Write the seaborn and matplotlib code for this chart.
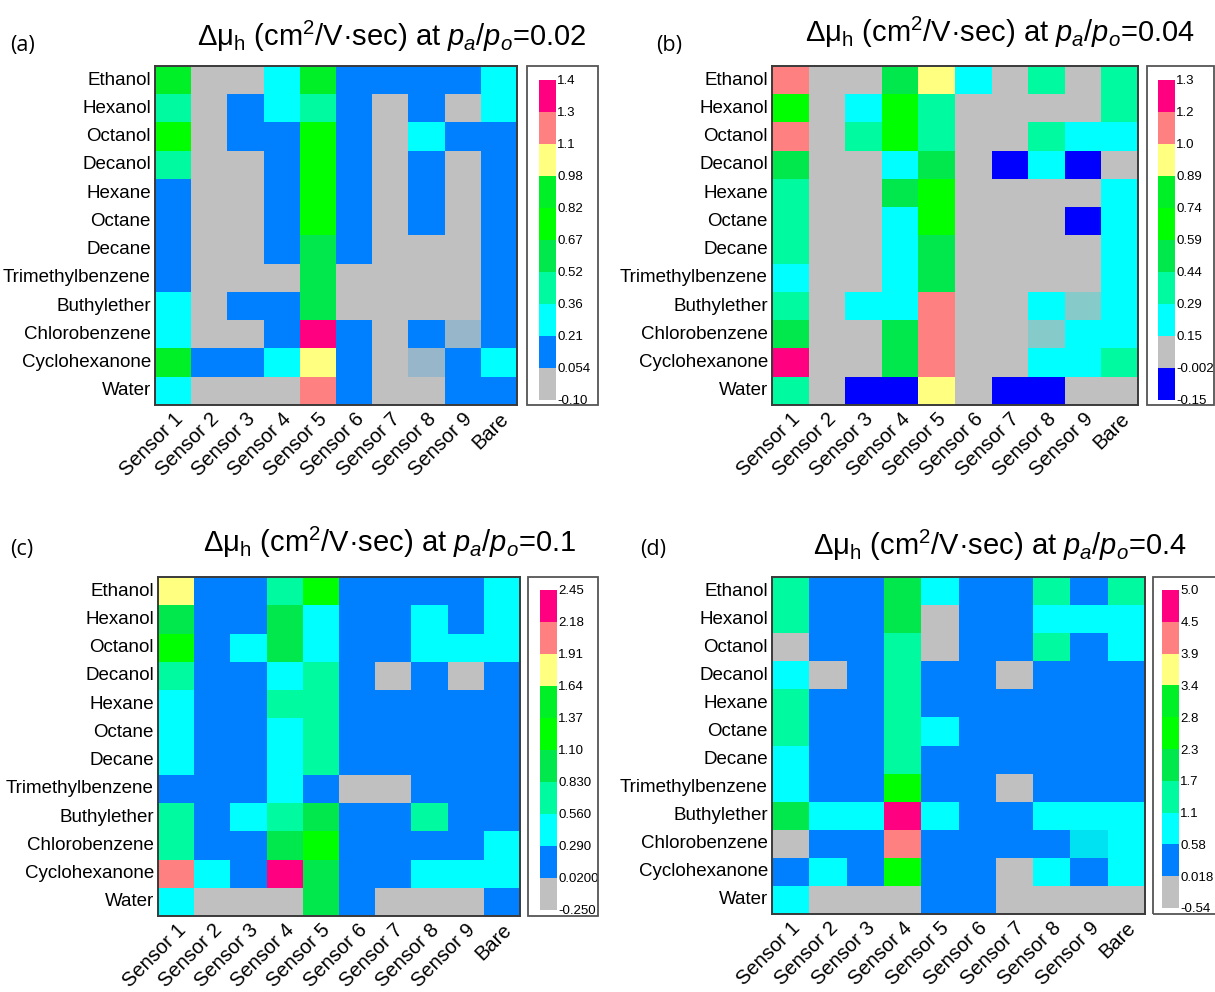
import numpy as np
import pandas as pd
import matplotlib
matplotlib.use("Agg")
import matplotlib.pyplot as plt
import seaborn as sns
from matplotlib.colors import ListedColormap, BoundaryNorm
from matplotlib.patches import Rectangle

sns.set_theme(style="white")
plt.rcParams["font.family"] = ["Liberation Sans", "DejaVu Sans"]
plt.rcParams["mathtext.fontset"] = "custom"
plt.rcParams["mathtext.rm"] = "Liberation Sans"
plt.rcParams["mathtext.it"] = "Liberation Sans:italic"

nan = np.nan

solvents = ["Ethanol", "Hexanol", "Octanol", "Decanol", "Hexane", "Octane",
            "Decane", "Trimethylbenzene", "Buthylether", "Chlorobenzene",
            "Cyclohexanone", "Water"]
sensors = ["Sensor 1", "Sensor 2", "Sensor 3", "Sensor 4", "Sensor 5",
           "Sensor 6", "Sensor 7", "Sensor 8", "Sensor 9", "Bare"]

# hole-mobility change (cm^2/V.sec), rows = solvent vapours, cols = sensors
dmu_002 = [
    [0.90, 0.01, -0.02, 0.28, 0.91, 0.12, 0.10, 0.13, 0.11, 0.30],
    [0.45, 0.02, 0.15, 0.27, 0.44, 0.14, -0.01, 0.09, 0.03, 0.29],
    [0.75, -0.03, 0.13, 0.16, 0.78, 0.12, 0.00, 0.26, 0.11, 0.14],
    [0.47, 0.02, 0.04, 0.12, 0.76, 0.15, 0.01, 0.10, -0.02, 0.13],
    [0.13, -0.01, 0.03, 0.11, 0.77, 0.13, 0.02, 0.12, 0.01, 0.15],
    [0.10, 0.00, -0.02, 0.14, 0.74, 0.11, 0.03, 0.13, 0.02, 0.12],
    [0.12, 0.02, 0.01, 0.15, 0.62, 0.10, -0.01, 0.04, 0.00, 0.14],
    [0.11, -0.02, 0.03, 0.02, 0.60, 0.01, 0.03, 0.02, -0.01, 0.13],
    [0.30, 0.01, 0.12, 0.10, 0.63, 0.02, 0.00, 0.03, 0.01, 0.12],
    [0.27, 0.03, -0.01, 0.13, 1.36, 0.14, 0.02, 0.11, nan, 0.15],
    [0.88, 0.12, 0.14, 0.31, 1.05, 0.13, 0.01, nan, 0.10, 0.26],
    [0.29, -0.04, 0.02, 0.01, 1.22, 0.12, 0.00, -0.03, 0.14, 0.11],
]
dmu_004 = [
    [1.12, 0.05, 0.08, 0.52, 0.95, 0.21, 0.06, 0.36, 0.09, 0.37],
    [0.68, 0.07, 0.22, 0.70, 0.38, 0.10, 0.04, 0.08, 0.11, 0.35],
    [1.08, 0.06, 0.33, 0.72, 0.40, 0.03, 0.09, 0.34, 0.20, 0.23],
    [0.55, 0.08, 0.05, 0.19, 0.53, 0.07, -0.09, 0.24, -0.10, 0.12],
    [0.39, 0.04, 0.10, 0.50, 0.67, 0.06, 0.05, 0.09, 0.02, 0.22],
    [0.37, 0.09, 0.06, 0.25, 0.66, 0.08, 0.03, 0.07, -0.07, 0.21],
    [0.36, 0.05, 0.07, 0.23, 0.56, 0.10, 0.06, 0.04, 0.08, 0.20],
    [0.26, 0.03, 0.08, 0.22, 0.54, 0.09, 0.07, 0.05, 0.06, 0.19],
    [0.38, 0.06, 0.24, 0.21, 1.10, 0.04, 0.08, 0.18, nan, 0.23],
    [0.51, 0.07, 0.09, 0.50, 1.13, 0.05, 0.10, nan, 0.22, 0.24],
    [1.25, 0.08, 0.04, 0.55, 1.06, 0.06, 0.07, 0.20, 0.25, 0.34],
    [0.35, 0.10, -0.08, -0.11, 0.94, 0.03, -0.06, -0.09, 0.07, 0.05],
]
dmu_01 = [
    [1.78, 0.12, 0.15, 0.70, 1.22, 0.10, 0.14, 0.11, 0.13, 0.42],
    [0.98, 0.14, 0.09, 0.95, 0.43, 0.12, 0.10, 0.40, 0.15, 0.38],
    [1.20, 0.11, 0.35, 0.97, 0.45, 0.13, 0.16, 0.41, 0.37, 0.39],
    [0.72, 0.13, 0.10, 0.44, 0.68, 0.15, -0.08, 0.12, -0.05, 0.14],
    [0.40, 0.12, 0.16, 0.66, 0.71, 0.11, 0.09, 0.13, 0.10, 0.15],
    [0.38, 0.14, 0.11, 0.45, 0.69, 0.12, 0.10, 0.14, 0.12, 0.13],
    [0.42, 0.10, 0.13, 0.47, 0.73, 0.09, 0.12, 0.11, 0.14, 0.10],
    [0.18, 0.11, 0.14, 0.43, 0.20, -0.06, -0.03, 0.12, 0.10, 0.13],
    [0.68, 0.13, 0.39, 0.70, 1.02, 0.15, 0.12, 0.67, 0.11, 0.14],
    [0.71, 0.10, 0.12, 0.99, 1.25, 0.13, 0.14, 0.10, 0.12, 0.44],
    [2.02, 0.41, 0.16, 2.31, 0.96, 0.12, 0.11, 0.37, 0.40, 0.43],
    [0.36, -0.10, -0.12, -0.08, 0.94, 0.13, -0.07, -0.09, -0.11, 0.15],
]
dmu_04 = [
    [1.42, 0.31, 0.25, 2.05, 0.86, 0.28, 0.33, 1.35, 0.30, 1.38],
    [1.40, 0.27, 0.34, 2.10, -0.21, 0.29, 0.26, 0.84, 0.90, 0.88],
    [-0.18, 0.30, 0.28, 1.45, -0.25, 0.32, 0.27, 1.36, 0.31, 0.87],
    [0.85, -0.15, 0.29, 1.44, 0.31, 0.26, -0.19, 0.33, 0.28, 0.30],
    [1.38, 0.28, 0.32, 1.41, 0.30, 0.27, 0.29, 0.31, 0.26, 0.33],
    [1.36, 0.33, 0.27, 1.43, 0.83, 0.29, 0.30, 0.28, 0.32, 0.27],
    [0.89, 0.29, 0.31, 1.47, 0.28, 0.30, 0.27, 0.29, 0.31, 0.28],
    [0.91, 0.26, 0.30, 2.55, 0.32, 0.28, -0.17, 0.30, 0.27, 0.29],
    [2.00, 0.87, 0.84, 4.72, 0.86, 0.31, 0.29, 0.88, 0.85, 0.90],
    [-0.22, 0.30, 0.28, 4.18, 0.27, 0.32, 0.29, 0.33, nan, 0.86],
    [0.33, 0.88, 0.30, 2.52, 0.29, 0.27, -0.20, 0.85, 0.31, 0.89],
    [0.87, -0.16, -0.23, -0.19, 0.30, 0.28, -0.21, -0.18, -0.24, -0.17],
]

# colour-scale boundaries and their printed labels
bounds_002 = [-0.10, 0.054, 0.21, 0.36, 0.52, 0.67, 0.82, 0.98, 1.1, 1.3, 1.4]
labels_002 = ["-0.10", "0.054", "0.21", "0.36", "0.52", "0.67", "0.82", "0.98", "1.1", "1.3", "1.4"]
bounds_004 = [-0.15, -0.002, 0.15, 0.29, 0.44, 0.59, 0.74, 0.89, 1.0, 1.2, 1.3]
labels_004 = ["-0.15", "-0.002", "0.15", "0.29", "0.44", "0.59", "0.74", "0.89", "1.0", "1.2", "1.3"]
bounds_01 = [-0.25, 0.02, 0.29, 0.56, 0.83, 1.10, 1.37, 1.64, 1.91, 2.18, 2.45]
labels_01 = ["-0.250", "0.0200", "0.290", "0.560", "0.830", "1.10", "1.37", "1.64", "1.91", "2.18", "2.45"]
bounds_04 = [-0.54, 0.018, 0.58, 1.1, 1.7, 2.3, 2.8, 3.4, 3.9, 4.5, 5.0]
labels_04 = ["-0.54", "0.018", "0.58", "1.1", "1.7", "2.3", "2.8", "3.4", "3.9", "4.5", "5.0"]

ratio_labels = ["0.02", "0.04", "0.1", "0.4"]
panel_tags = ["(a)", "(b)", "(c)", "(d)"]

GRAY, BLUE, DBLUE = "#C0C0C0", "#0080FF", "#0000FF"
upper = ["#00FFFF", "#00FAA0", "#00E84C", "#00FF00", "#00F028", "#FFFF80", "#FF8080", "#FF0080"]
colors_std = [GRAY, BLUE] + upper
colors_neg = [DBLUE, GRAY] + upper

W, H = 1215, 992


def fbox(x0, y0, x1, y1):
    return [x0 / W, 1 - y1 / H, (x1 - x0) / W, (y1 - y0) / H]


panels = [
    dict(data=dmu_002, bounds=bounds_002, labels=labels_002, colors=colors_std,
         hm=(155, 66, 517, 405), box=(527, 66, 598, 405), strip=(539, 80, 556, 400),
         title_x=392, title_y=36, tag=(10, 46), na="#98B6CA"),
    dict(data=dmu_004, bounds=bounds_004, labels=labels_004, colors=colors_neg,
         hm=(772, 66, 1138, 405), box=(1147, 66, 1214, 405), strip=(1158, 80, 1175, 400),
         title_x=1000, title_y=32, tag=(656, 46), na="#86CACA"),
    dict(data=dmu_01, bounds=bounds_01, labels=labels_01, colors=colors_std,
         hm=(158, 577, 520, 916), box=(528, 577, 598, 916), strip=(540, 590, 557, 910),
         title_x=390, title_y=542, tag=(10, 550), na="#C0C0C0"),
    dict(data=dmu_04, bounds=bounds_04, labels=labels_04, colors=colors_std,
         hm=(772, 577, 1145, 914), box=(1153, 577, 1218, 914), strip=(1162, 590, 1179, 908),
         title_x=1000, title_y=545, tag=(640, 550), na="#00E2F2"),
]

fig = plt.figure(figsize=(W / 100, H / 100), dpi=100)
fig.patch.set_facecolor("white")

for p, ratio, tag in zip(panels, ratio_labels, panel_tags):
    df = pd.DataFrame(p["data"], index=solvents, columns=sensors)
    cmap = ListedColormap(p["colors"])
    norm = BoundaryNorm(p["bounds"], cmap.N)

    ax = fig.add_axes(fbox(*p["hm"]))
    cax = fig.add_axes(fbox(*p["strip"]))
    ax.set_facecolor(p["na"])

    sns.heatmap(df, ax=ax, cmap=cmap, norm=norm, cbar_ax=cax,
                cbar_kws={"ticks": p["bounds"]})

    for s in ax.spines.values():
        s.set_visible(True)
        s.set_color("#3a3a3a")
        s.set_linewidth(1.4)
    ax.tick_params(length=0, pad=3)
    ax.set_yticklabels(solvents, rotation=0, fontsize=13.5, color="black")
    ax.set_xticklabels(sensors, rotation=45, ha="right", rotation_mode="anchor",
                       fontsize=14.5, color="black")
    ax.set_xlabel("")
    ax.set_ylabel("")

    cb = ax.collections[0].colorbar
    cb.set_ticks(p["bounds"])
    cb.set_ticklabels(p["labels"])
    cb.ax.tick_params(length=0, labelsize=9.5, pad=1, colors="black")
    cb.outline.set_visible(False)

    x0, y0, x1, y1 = p["box"]
    fig.add_artist(Rectangle((x0 / W, 1 - y1 / H), (x1 - x0) / W, (y1 - y0) / H,
                             transform=fig.transFigure, fill=False,
                             edgecolor="#555555", linewidth=1.3))

    fig.text(p["title_x"] / W, 1 - p["title_y"] / H,
             "Δμ$_\\mathrm{h}$ (cm$^2$/V·sec) at $p_a$/$p_o$=" + ratio,
             ha="center", va="center", fontsize=21, color="black")
    fig.text(p["tag"][0] / W, 1 - p["tag"][1] / H, tag, ha="left", va="center",
             fontsize=15.5, family=["Open Sans", "DejaVu Sans"], color="black")

fig.savefig("out.png", dpi=100, facecolor="white")
